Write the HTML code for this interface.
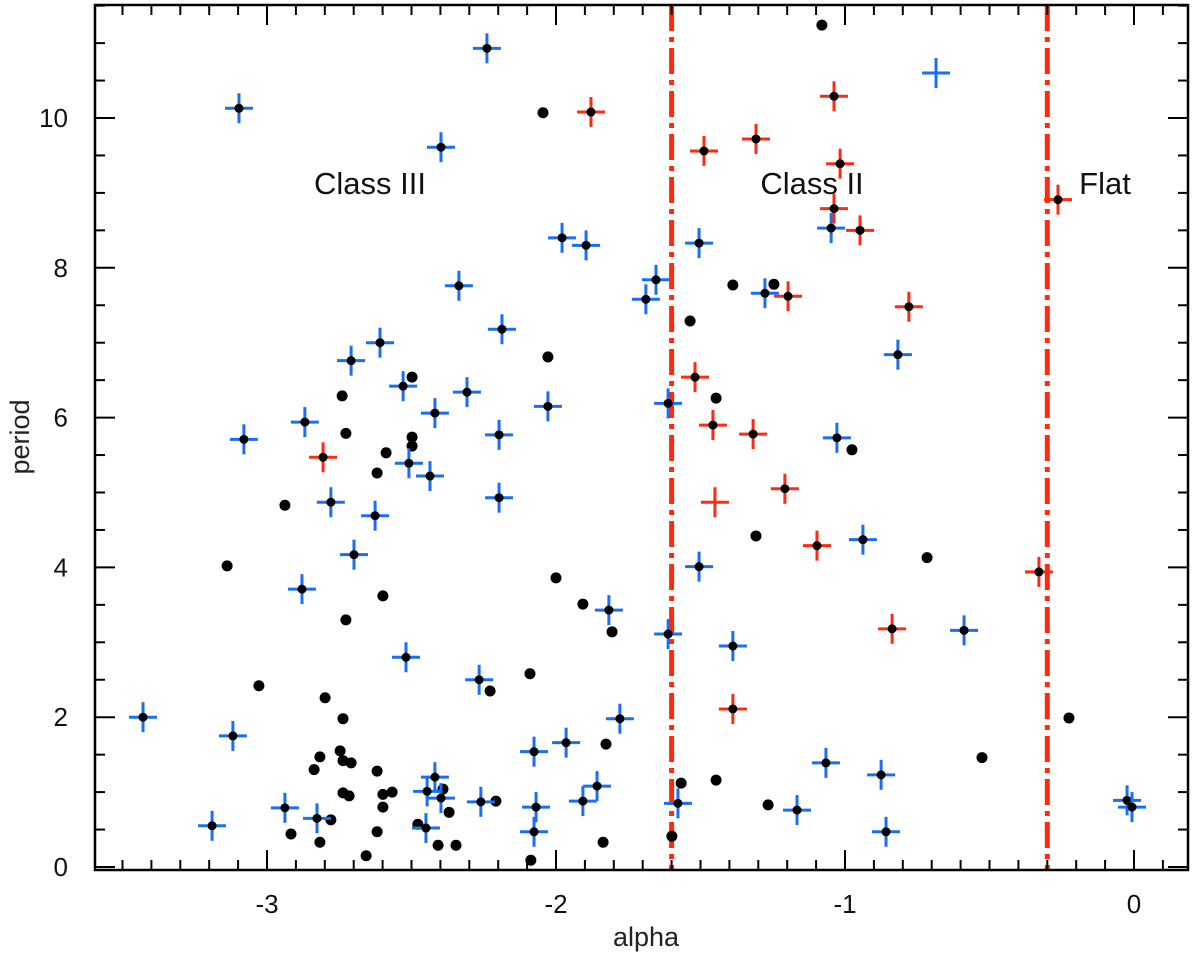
<!DOCTYPE html>
<html><head><meta charset="utf-8"><style>
html,body{margin:0;padding:0;background:#fff;}
svg{display:block;font-family:"Liberation Sans",Arial,sans-serif;}
</style></head><body>
<svg id="chart" width="1200" height="954" viewBox="0 0 1200 954" xmlns="http://www.w3.org/2000/svg">
<g id="marks"></g>
<g id="axes"></g>
<text x="646" y="946" font-size="27" text-anchor="middle" fill="#222">alpha</text>
<text x="0" y="0" font-size="27" text-anchor="middle" fill="#222" transform="translate(29,437) rotate(-90)">period</text>
<text x="370" y="194" font-size="31" text-anchor="middle" fill="#111">Class III</text>
<text x="812" y="194" font-size="31" text-anchor="middle" fill="#111">Class II</text>
<text x="1105" y="194" font-size="31" text-anchor="middle" fill="#111">Flat</text>
</svg>
<script>
// ---- data ----
const blueAlpha=[-3.097,-2.239,-2.398,-1.979,-1.896,-1.654,-1.689,-2.336,-2.187,-2.609,-2.709,-2.529,-2.869,-2.308,-2.419,-3.080,-2.197,-2.028,-2.509,-2.436,-2.779,-2.626,-2.197,-2.699,-2.879,-1.817,-2.519,-2.266,-3.429,-3.118,-1.779,-2.076,-1.965,-2.938,-3.190,-2.827,-2.419,-2.446,-2.398,-2.450,-2.260,-2.069,-2.076,-1.907,-1.858,-1.612,-1.612,-1.578,-1.505,-1.277,-1.048,-1.028,-0.817,-0.938,-1.505,-1.388,-0.588,-1.066,-0.875,-1.166,-0.858,-0.024,-0.007];
const bluePeriod=[10.13,10.93,9.61,8.40,8.30,7.84,7.58,7.76,7.18,7.00,6.76,6.42,5.94,6.34,6.06,5.71,5.77,6.15,5.39,5.22,4.87,4.69,4.93,4.17,3.71,3.43,2.80,2.50,2.00,1.75,1.98,1.54,1.66,0.79,0.55,0.65,1.20,1.01,0.92,0.52,0.87,0.80,0.47,0.88,1.08,3.11,6.19,0.85,8.33,7.66,8.53,5.73,6.84,4.37,4.01,2.95,3.16,1.39,1.23,0.76,0.47,0.89,0.80];
const blueNoDotAlpha=[-0.685];
const blueNoDotPeriod=[10.60];
const redAlpha=[-1.879,-1.038,-1.308,-1.488,-1.017,-1.038,-0.948,-0.263,-1.197,-0.779,-1.519,-1.457,-1.318,-1.208,-1.097,-0.837,-1.388,-0.329,-2.806];
const redPeriod=[10.08,10.29,9.72,9.56,9.39,8.79,8.50,8.91,7.62,7.48,6.54,5.90,5.78,5.05,4.29,3.18,2.11,3.94,5.47];
const redNoDotAlpha=[-1.450];
const redNoDotPeriod=[4.87];
const dotAlpha=[-2.045,-1.080,-1.388,-1.246,-1.536,-1.446,-0.976,-1.308,-0.716,-0.225,-0.526,-1.567,-1.446,-1.266,-1.599,-3.138,-3.028,-2.799,-2.737,-2.727,-2.599,-2.837,-2.817,-2.747,-2.737,-2.709,-2.737,-2.716,-2.619,-2.599,-2.567,-2.599,-2.619,-2.817,-2.917,-2.779,-2.657,-2.478,-2.408,-2.346,-2.370,-2.391,-2.208,-2.228,-2.090,-2.000,-1.907,-1.806,-1.827,-1.837,-2.087,-2.740,-2.727,-2.498,-2.498,-2.498,-2.588,-2.619,-2.938,-2.028];
const dotPeriod=[10.07,11.24,7.77,7.78,7.29,6.26,5.57,4.42,4.13,1.99,1.46,1.12,1.16,0.83,0.41,4.02,2.42,2.26,1.98,3.30,3.62,1.30,1.47,1.55,1.42,1.39,0.99,0.95,1.28,0.97,1.00,0.80,0.47,0.33,0.44,0.63,0.15,0.57,0.29,0.29,0.73,1.04,0.88,2.35,2.58,3.86,3.51,3.14,1.64,0.33,0.09,6.29,5.79,6.54,5.74,5.62,5.53,5.26,4.83,6.81];
const boundaries=[-1.6,-0.3];
const xTickLabels=[-3,-2,-1,0];
const yTickLabels=[0,2,4,6,8,10];

// ---- axes functions ----
const L=95,R=1188,T=5,B=870;
function X(a){return 1134+a*289;}
function Y(p){return 867-p*74.9;}
const NS="http://www.w3.org/2000/svg";
const marks=document.getElementById('marks');
const axes=document.getElementById('axes');
function mk(tag,attrs,parent){const e=document.createElementNS(NS,tag);for(const k in attrs)e.setAttribute(k,attrs[k]);parent.appendChild(e);return e;}

const BLUE="#1a6ef5",RED="#ff2a10";
function cross(a,p,color,name){
  const g=mk('g',{},marks);
  
  
  const x=X(a),y=Y(p);
  mk('line',{x1:x-14,y1:y,x2:x+14,y2:y,stroke:color,'stroke-width':3},g);
  mk('line',{x1:x,y1:y-15,x2:x,y2:y+15,stroke:color,'stroke-width':3},g);
  return g;
}
function dot(a,p,name,r){
  const c=mk('circle',{cx:X(a),cy:Y(p),r:r,fill:'#000'},marks);
  
  
}
boundaries.forEach((b,i)=>{
  const l=mk('line',{x1:X(b),y1:T,x2:X(b),y2:B,stroke:RED,'stroke-width':5,'stroke-dasharray':'26,6,5,6'},marks);
  
  
});
dotAlpha.forEach((a,i)=>dot(a,dotPeriod[i],'black-point',5.5));
blueAlpha.forEach((a,i)=>{cross(a,bluePeriod[i],BLUE,'blue-point');dot(a,bluePeriod[i],'blue-point-dot',4.5);});
blueNoDotAlpha.forEach((a,i)=>cross(a,blueNoDotPeriod[i],BLUE,'blue-point-nodot'));
redAlpha.forEach((a,i)=>{cross(a,redPeriod[i],RED,'red-point');dot(a,redPeriod[i],'red-point-dot',4.5);});
redNoDotAlpha.forEach((a,i)=>cross(a,redNoDotPeriod[i],RED,'red-point-nodot'));

const fr=mk('rect',{x:L,y:T,width:R-L,height:B-T,fill:'none',stroke:'#000','stroke-width':2.5},axes);


for(let k=-36;k<=1;k++){
  const a=k/10,x=X(a);if(x<L||x>R)continue;
  const major=(k%10===0),len=major?20:10;
  mk('line',{x1:x,y1:B,x2:x,y2:B-len,stroke:'#000','stroke-width':2},axes);
  mk('line',{x1:x,y1:T,x2:x,y2:T+len,stroke:'#000','stroke-width':2},axes);
}
xTickLabels.forEach(v=>{
  const t=mk('text',{x:X(v),y:913,'font-size':26,'text-anchor':'middle',fill:'#111'},axes);
  t.textContent=String(v);
  
  
});
for(let k=0;k<=23;k++){
  const p=k/2,y=Y(p);if(y<T||y>B)continue;
  const major=(k%4===0),len=major?20:10;
  mk('line',{x1:L,y1:y,x2:L+len,y2:y,stroke:'#000','stroke-width':2},axes);
  mk('line',{x1:R,y1:y,x2:R-len,y2:y,stroke:'#000','stroke-width':2},axes);
}
yTickLabels.forEach(v=>{
  const t=mk('text',{x:68,y:Y(v)+9,'font-size':26,'text-anchor':'end',fill:'#111'},axes);
  t.textContent=String(v);
  
  
});
</script>
</body></html>
